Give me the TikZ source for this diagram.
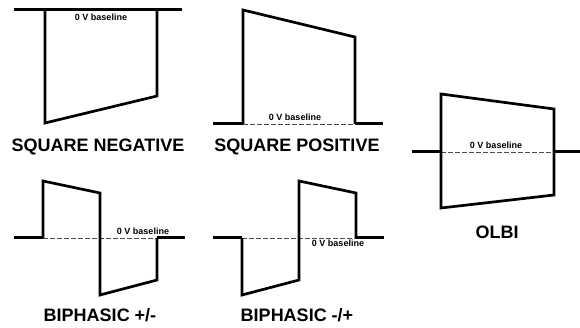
\documentclass[tikz,border=0pt]{standalone}
\usepackage{fontspec}
\setmainfont{Liberation Sans}
\usetikzlibrary{positioning}

\tikzset{
  wave/.style={line width=2.7pt, line join=miter},
  lead/.style={line width=3pt},
  zero/.style={dashed, dash pattern=on 5pt off 2pt, line width=0.8pt, black!70},
  vtext/.style={font=\bfseries\fontsize{9}{10}\selectfont, inner sep=0pt},
  wavename/.style={font=\bfseries\fontsize{18}{19}\selectfont, inner sep=0pt}
}

\begin{document}
\begin{tikzpicture}[x=1pt, y=-1pt]
\useasboundingbox (0,0) rectangle (580,328);

% square negative
\draw[lead] (14,10) -- (182,10);
\draw[wave] (45,10) -- (45,123) -- (157,96) -- (157,10);
\node[vtext] (snzero) at (101,17) {0 V baseline};
\node[wavename] (snname) at (98,147) {SQUARE NEGATIVE};

% square positive
\draw[zero] (243,124) -- (355,124);
\draw[lead] (213,124) -- (243,124);
\draw[wave] (243,124) -- (243,10) -- (355,37) -- (355,124);
\draw[lead] (355,124) -- (383,124);
\node[vtext] (spzero) at (295,117) {0 V baseline};
\node[wavename] (spname) at (297,147) {SQUARE POSITIVE};

% olbi
\draw[zero] (441,152) -- (554,152);
\draw[lead] (412,152) -- (441,152);
\draw[wave] (441,152) -- (441,94) -- (554,109) -- (554,195) -- (441,208) -- cycle;
\draw[lead] (554,152) -- (580,152);
\node[vtext] (olzero) at (496,145) {0 V baseline};
\node[wavename] (olname) at (497,232) {OLBI};

% biphasic +/-
\draw[zero] (43,238) -- (157,238);
\draw[lead] (14,238) -- (43,238);
\draw[wave] (43,238) -- (43,181) -- (100,193) -- (100,295) -- (157,280) -- (157,238);
\draw[lead] (157,238) -- (185,238);
\node[vtext] (bpzero) at (143,231) {0 V baseline};
\node[wavename] (bpname) at (100,315) {BIPHASIC +/-};

% biphasic -/+
\draw[zero] (242,238) -- (356,238);
\draw[lead] (213,238) -- (242,238);
\draw[wave] (242,238) -- (242,295) -- (299,280) -- (299,181) -- (356,193) -- (356,238);
\draw[lead] (356,238) -- (384,238);
\node[vtext] (bmzero) at (338,243) {0 V baseline};
\node[wavename] (bmname) at (297,315) {BIPHASIC -/+};
\end{tikzpicture}
\end{document}
